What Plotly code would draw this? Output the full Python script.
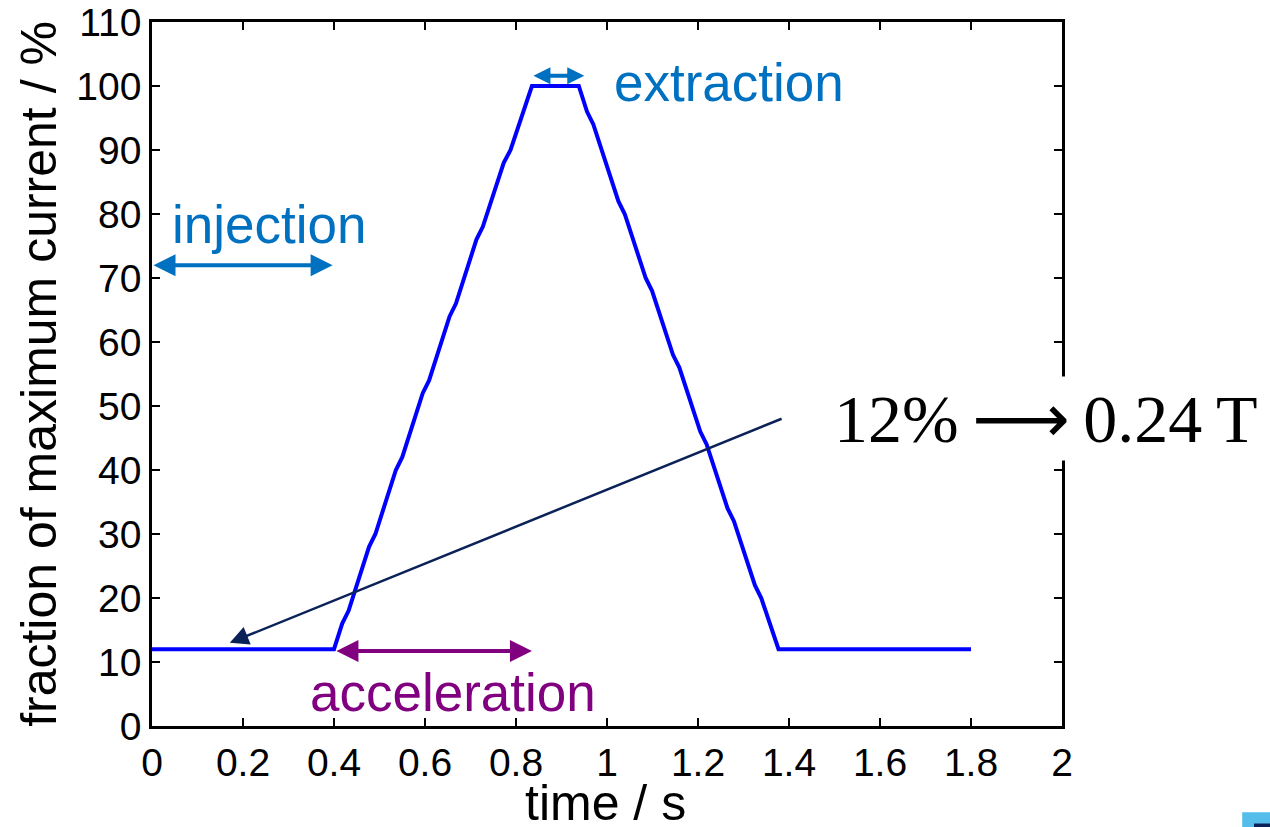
import plotly.graph_objects as go

# ---- data ----
time_s = [0.0, 0.400, 0.418, 0.432, 0.477, 0.491, 0.536, 0.550, 0.595, 0.609,
          0.654, 0.668, 0.713, 0.727, 0.773, 0.788, 0.835,
          0.938, 0.956, 0.970, 1.025, 1.039, 1.085, 1.099, 1.145, 1.159,
          1.205, 1.219, 1.265, 1.279, 1.325, 1.339, 1.377, 1.8]
current_pct = [12, 12, 16, 18, 28, 30, 40, 42, 52, 54,
               64, 66, 76, 78, 88, 90, 100,
               100, 96, 94, 82, 80, 70, 68, 58, 56,
               46, 44, 34, 32, 22, 20, 12, 12]

x_tick_vals = [0, 0.2, 0.4, 0.6, 0.8, 1.0, 1.2, 1.4, 1.6, 1.8, 2.0]
x_tick_text = ["0", "0.2", "0.4", "0.6", "0.8", "1", "1.2", "1.4", "1.6", "1.8", "2"]
y_tick_vals = [0, 10, 20, 30, 40, 50, 60, 70, 80, 90, 100, 110]
y_tick_text = ["0", "10", "20", "30", "40", "50", "60", "70", "80", "90", "100", "110"]
x_title = "time / s"
y_title = "fraction of maximum current / %"

# phase spans (start, end, level) and labels
injection_span = [0.0, 0.397, 72]
extraction_span = [0.835, 0.950, 101.6]
acceleration_span = [0.402, 0.835, 11.7]
field_arrow = [1.387, 48.1, 0.171, 13.0]   # tail x, tail y, head x, head y

BLUE_TXT = "#0070C0"
PURPLE = "#800080"
NAVY = "#0B2259"
SANS = "Liberation Sans, Arial, sans-serif"
SERIF = "Liberation Serif, Times New Roman, serif"

fig = go.Figure()
fig.add_trace(go.Scatter(x=time_s, y=current_pct, mode="lines",
                         line=dict(color="#0000FF", width=4), showlegend=False,
                         hoverinfo="skip"))

def double_arrow(span, color, width, size):
    return dict(x=span[1], y=span[2], ax=span[0], ay=span[2],
                xref="x", yref="y", axref="x", ayref="y", text="",
                showarrow=True, arrowhead=2, startarrowhead=2,
                arrowside="end+start", arrowsize=size, startarrowsize=size,
                arrowwidth=width, arrowcolor=color, standoff=0, startstandoff=0)

annotations = [
    double_arrow(injection_span, BLUE_TXT, 4, 1.1),
    double_arrow(extraction_span, BLUE_TXT, 4, 0.85),
    double_arrow(acceleration_span, PURPLE, 4, 1.1),
    dict(x=field_arrow[2], y=field_arrow[3], ax=field_arrow[0], ay=field_arrow[1],
         xref="x", yref="y", axref="x", ayref="y", text="", showarrow=True,
         arrowhead=2, arrowsize=1.5, arrowwidth=2.5, arrowcolor=NAVY, standoff=0),
    dict(x=0.04, y=78.3, xref="x", yref="y", text="injection", showarrow=False,
         xanchor="left", yanchor="middle", font=dict(family=SANS, size=53, color=BLUE_TXT)),
    dict(x=1.268, y=100.5, xref="x", yref="y", text="extraction", showarrow=False,
         xanchor="center", yanchor="middle", font=dict(family=SANS, size=53, color=BLUE_TXT)),
    dict(x=0.661, y=5.2, xref="x", yref="y", text="acceleration", showarrow=False,
         xanchor="center", yanchor="middle", font=dict(family=SANS, size=53, color=PURPLE)),
    dict(x=1.965, y=48.1, xref="x", yref="y",
         text="12%\u2009<span style=\"font-family:DejaVu Sans\">\u27F6</span>\u20090.24\u2009T",
         showarrow=False,
         xanchor="center", yanchor="middle", bgcolor="white", borderpad=2,
         font=dict(family=SERIF, size=68, color="black")),
    # x-axis title
    dict(x=0.498, y=-0.109, xref="paper", yref="paper", text=x_title, showarrow=False,
         xanchor="center", yanchor="middle", borderpad=0,
         font=dict(family=SANS, size=50, color="black")),
]

axis_common = dict(showline=True, linecolor="black", linewidth=2.5, mirror="ticks",
                   ticks="inside", ticklen=8, tickwidth=2, tickcolor="black",
                   showgrid=False, zeroline=False, automargin=False,
                   tickfont=dict(family=SANS, size=39, color="black"))

fig.update_layout(
    width=1270, height=827,
    margin=dict(l=152, r=208, t=22, b=101, autoexpand=False),
    paper_bgcolor="white", plot_bgcolor="white",
    xaxis=dict(range=[0, 2], tickvals=x_tick_vals, ticktext=x_tick_text,
               **axis_common),
    yaxis=dict(range=[0, 110], tickvals=y_tick_vals, ticktext=y_tick_text,
               title=dict(text=y_title,
                          font=dict(family=SANS, size=50, color="black"), standoff=4),
               **axis_common),
    annotations=annotations,
    shapes=[
        dict(type="rect", xref="paper", yref="paper", x0=1.198, x1=1.23, y0=-0.1225, y1=-0.145,
             fillcolor="#55BDEB", line=dict(width=0), layer="above"),
        dict(type="rect", xref="paper", yref="paper", x0=1.211, x1=1.23, y0=-0.1385, y1=-0.145,
             fillcolor="#0B2259", line=dict(width=0), layer="above"),
    ],
)

fig.write_html("out.html", config={"displayModeBar": False},
               post_script="document.body.style.margin='0';document.body.style.overflow='hidden';")
